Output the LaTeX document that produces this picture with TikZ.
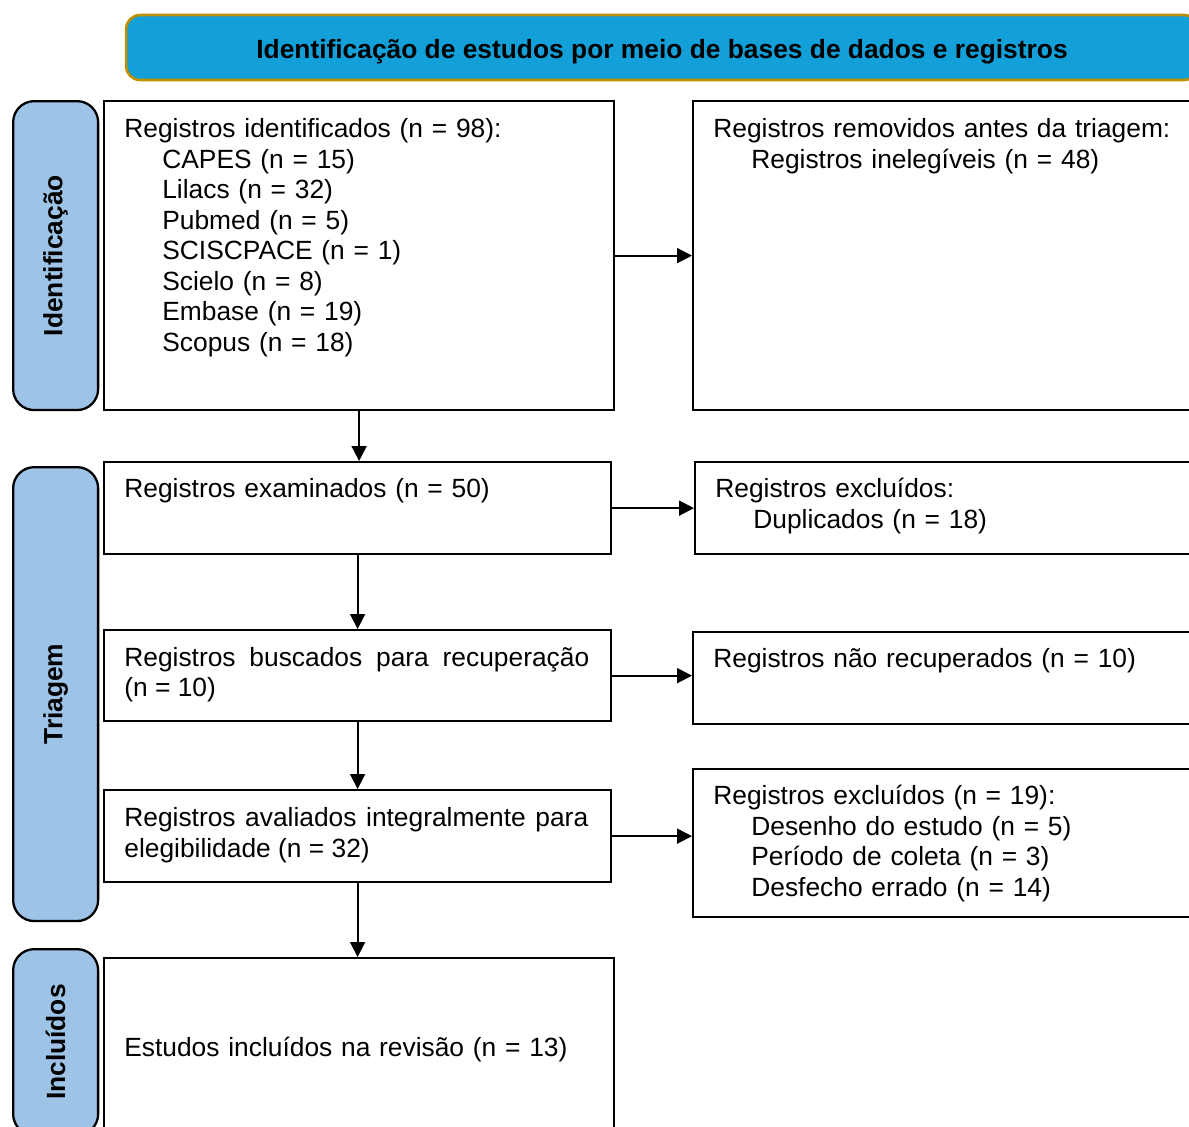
\documentclass[tikz,border=0pt]{standalone}
\usepackage{fontspec}
\setmainfont{Liberation Sans}
\usetikzlibrary{positioning,arrows.meta}
\definecolor{AzulTitulo}{RGB}{19,159,215}
\definecolor{OuroBorda}{RGB}{191,144,0}
\definecolor{AzulFase}{RGB}{157,195,230}
\tikzstyle{Titulo}=[rectangle, rounded corners=8pt, draw=OuroBorda, fill=AzulTitulo, line width=1.5pt, minimum width=21.44cm, minimum height=1.3cm, text height=12pt, text depth=0pt, font=\fontsize{15}{17}\selectfont\bfseries]
\tikzstyle{Fase}=[rectangle, rounded corners=12pt, draw=black, fill=AzulFase, line width=1.3pt, anchor=north west, minimum width=1.7cm, inner sep=0pt]
\tikzstyle{FaseTexto}=[rotate=90, inner sep=0pt, font=\fontsize{15}{17}\selectfont\bfseries]
\tikzstyle{Caixa}=[rectangle, draw=black, line width=1.3pt, anchor=north west, inner sep=0pt]
\tikzstyle{Texto}=[anchor=base west, inner sep=0pt, text width=9.3cm, align=left, font=\fontsize{15}{17.4}\selectfont]
\tikzstyle{Flecha}=[-{Triangle[length=8.5pt, width=8.5pt]}, line width=1.1pt]
\newcommand{\recuo}{\hspace*{0.76cm}}

\begin{document}
\begin{tikzpicture}[x=0.02cm, y=-0.02cm]
			\clip (0,0) rectangle (1189,1126);
			\useasboundingbox (0,0) rectangle (1189,1126);

			%Titulo
			\node[Titulo]	(titulo)	at (662,47.5)	{Identificação de estudos por meio de bases de dados e registros};

			%Fases
			\node[Fase, minimum height=6.18cm]	(fase_ident)	at (12,100)	{};
			\node[Fase, minimum height=9.08cm]	(fase_triagem)	at (12,466)	{};
			\node[Fase, minimum height=3.72cm]	(fase_incl)		at (12,948)	{};
			\node[FaseTexto]	(fase_ident_txt)	at (fase_ident.center)		{Identificação};
			\node[FaseTexto]	(fase_triagem_txt)	at (fase_triagem.center)	{Triagem};
			\node[FaseTexto]	(fase_incl_txt)		at (fase_incl.center)		{Incluídos};

			%Caixas
			\node[Caixa, minimum width=10.2cm, minimum height=6.18cm]	(identificados)	at (103,100)	{};
			\node[Caixa, minimum width=11.36cm, minimum height=6.18cm]	(removidos)		at (692,100)	{};
			\node[Caixa, minimum width=10.14cm, minimum height=1.84cm]	(examinados)	at (103,461)	{};
			\node[Caixa, minimum width=11.32cm, minimum height=1.84cm]	(excluidos)		at (694,461)	{};
			\node[Caixa, minimum width=10.14cm, minimum height=1.82cm]	(buscados)		at (103,629)	{};
			\node[Caixa, minimum width=11.36cm, minimum height=1.84cm]	(nao_recup)		at (692,631)	{};
			\node[Caixa, minimum width=10.14cm, minimum height=1.84cm]	(avaliados)		at (103,789)	{};
			\node[Caixa, minimum width=11.36cm, minimum height=2.96cm]	(excluidos_dois)	at (692,768)	{};
			\node[Caixa, minimum width=10.2cm, minimum height=3.7cm]	(incluidos)		at (103,957)	{};

			%Textos
			\node[Texto]	(identificados_txt)	at (124,137.5)	{Registros identificados (n = 98):\\
				\recuo CAPES (n = 15)\\ \recuo Lilacs (n = 32)\\ \recuo Pubmed (n = 5)\\
				\recuo SCISCPACE (n = 1)\\ \recuo Scielo (n = 8)\\ \recuo Embase (n = 19)\\ \recuo Scopus (n = 18)};
			\node[Texto, text width=10cm]	(removidos_txt)	at (713,137.5)	{Registros removidos antes da triagem:\\ \recuo Registros inelegíveis (n = 48)};
			\node[Texto]	(examinados_txt)	at (124,497.5)	{Registros examinados (n = 50)};
			\node[Texto]	(excluidos_txt)		at (715,497.5)	{Registros excluídos:\\ \recuo Duplicados (n = 18)};
			\node[Texto, align=justify]	(buscados_txt)	at (124,666)	{Registros buscados para recuperação\linebreak (n = 10)};
			\node[Texto]	(nao_recup_txt)		at (713,667.5)	{Registros não recuperados (n = 10)};
			\node[Texto, align=justify, text width=9.28cm]	(avaliados_txt)	at (124,826.5)	{Registros avaliados integralmente para\linebreak elegibilidade (n = 32)};
			\node[Texto]	(excluidos_dois_txt)	at (713,804.5)	{Registros excluídos (n = 19):\\
				\recuo Desenho do estudo (n = 5)\\ \recuo Período de coleta (n = 3)\\ \recuo Desfecho errado (n = 14)};
			\node[Texto]	(incluidos_txt)		at (124,1056.5)	{Estudos incluídos na revisão (n = 13)};

			%Setas
			\draw[Flecha] (identificados.east) -- (identificados.east -| removidos.west);
			\draw[Flecha] (examinados.east) -- (examinados.east -| excluidos.west);
			\draw[Flecha] (buscados.east) -- (buscados.east -| nao_recup.west);
			\draw[Flecha] (avaliados.east) -- (avaliados.east -| excluidos_dois.west);
			\draw[Flecha] (identificados.south) -- (identificados.south |- examinados.north);
			\draw[Flecha] (examinados.south) -- (buscados.north);
			\draw[Flecha] (buscados.south) -- (avaliados.north);
			\draw[Flecha] (avaliados.south) -- (avaliados.south |- incluidos.north);

		\end{tikzpicture}
\end{document}
